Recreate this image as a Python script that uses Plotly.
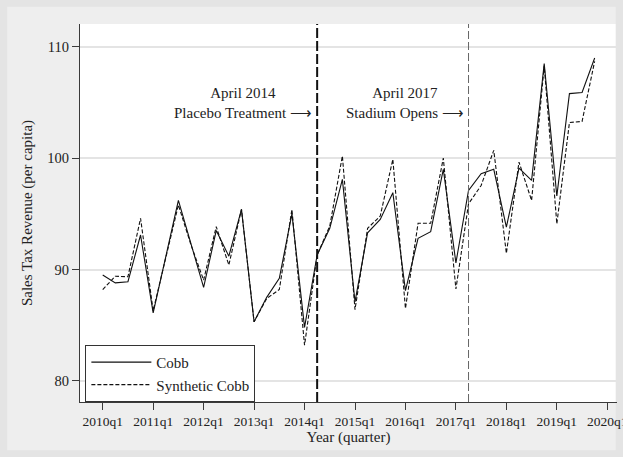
import plotly.graph_objects as go

quarters = ["2010q1", "2010q2", "2010q3", "2010q4",
            "2011q1", "2011q2", "2011q3", "2011q4",
            "2012q1", "2012q2", "2012q3", "2012q4",
            "2013q1", "2013q2", "2013q3", "2013q4",
            "2014q1", "2014q2", "2014q3", "2014q4",
            "2015q1", "2015q2", "2015q3", "2015q4",
            "2016q1", "2016q2", "2016q3", "2016q4",
            "2017q1", "2017q2", "2017q3", "2017q4",
            "2018q1", "2018q2", "2018q3", "2018q4",
            "2019q1", "2019q2", "2019q3", "2019q4"]

cobb = [89.5, 88.8, 88.9, 93.1, 86.1, 91.2, 96.2, 92.3, 88.4, 93.5,
        91.2, 95.4, 85.3, 87.5, 89.2, 95.0, 84.8, 91.3, 93.7, 98.1,
        87.1, 93.3, 94.5, 96.9, 88.1, 92.8, 93.4, 99.0, 90.6, 97.1,
        98.6, 99.0, 93.8, 99.1, 98.0, 108.5, 96.6, 105.8, 105.9, 109.0]

synthetic_cobb = [88.2, 89.4, 89.35, 94.6, 86.3, 91.0, 95.8, 92.2, 89.05, 93.85,
                  90.4, 95.4, 85.3, 87.4, 88.2, 95.4, 83.2, 91.3, 93.9, 100.2,
                  86.4, 93.7, 94.8, 99.9, 86.5, 94.15, 94.15, 100.0, 88.25, 95.9,
                  97.55, 100.7, 91.45, 99.65, 96.2, 108.3, 94.1, 103.2, 103.3, 108.7]

tick_labels = ["2010q1", "2011q1", "2012q1", "2013q1", "2014q1", "2015q1",
               "2016q1", "2017q1", "2018q1", "2019q1", "2020q1"]
tick_positions = [0, 4, 8, 12, 16, 20, 24, 28, 32, 36, 40]

y_ticks = [80, 90, 100, 110]

placebo_q = "2014q2"
stadium_q = "2017q2"

x_idx = list(range(len(quarters)))
FONT = "Liberation Serif"
TXT = "#222222"

fig = go.Figure()
fig.add_trace(go.Scatter(x=x_idx, y=cobb, mode="lines", name="Cobb",
                         line=dict(color="#111111", width=1.1)))
fig.add_trace(go.Scatter(x=x_idx, y=synthetic_cobb, mode="lines", name="Synthetic Cobb",
                         line=dict(color="#111111", width=1.1, dash="4px,2px")))

px_ = quarters.index(placebo_q)
sx_ = quarters.index(stadium_q)

fig.add_shape(type="line", xref="x", yref="paper", x0=px_, x1=px_, y0=0, y1=1,
              line=dict(color="#111111", width=2, dash="10px,3px"))
fig.add_shape(type="line", xref="x", yref="paper", x0=sx_, x1=sx_, y0=0, y1=1,
              line=dict(color="#666666", width=1, dash="8px,3px"))

fig.add_annotation(x=px_, xref="x", y=0.79, yref="paper", xanchor="right", yanchor="middle",
                   xshift=-3, showarrow=False, align="center",
                   text="April 2014<br>Placebo Treatment \u27f6",
                   font=dict(family=FONT, size=15, color=TXT))
fig.add_annotation(x=sx_, xref="x", y=0.79, yref="paper", xanchor="right", yanchor="middle",
                   xshift=-3, showarrow=False, align="center",
                   text="April 2017<br>Stadium Opens \u27f6",
                   font=dict(family=FONT, size=15, color=TXT))

# subtle outer frame
fig.add_shape(type="rect", xref="paper", yref="paper",
              x0=-0.143, x1=1.005, y0=-0.138, y1=1.056,
              line=dict(color="#e4e4e4", width=8), fillcolor="rgba(0,0,0,0)", layer="below")

fig.update_layout(
    width=623, height=457,
    margin=dict(l=80, r=6, t=24, b=55, autoexpand=False),
    paper_bgcolor="#eeeeee",
    plot_bgcolor="#ffffff",
    font=dict(family=FONT, size=14, color=TXT),
    showlegend=True,
    legend=dict(x=0.01, y=0.151, xanchor="left", yanchor="top",
                bgcolor="#ffffff", bordercolor="#333333", borderwidth=1,
                font=dict(family=FONT, size=15, color=TXT),
                itemwidth=60, tracegroupgap=0),
    xaxis=dict(range=[-1.8, 40.77], tickmode="array", tickvals=tick_positions,
               ticktext=tick_labels, showgrid=False, zeroline=False,
               showline=True, linecolor="#3a3a3a", linewidth=1.3,
               ticks="outside", ticklen=7, tickcolor="#3a3a3a", tickwidth=1,
               ticklabeloverflow="allow", automargin=False,
               tickfont=dict(family=FONT, size=13.5, color=TXT),
               title=dict(text="Year (quarter)", standoff=2,
                          font=dict(family=FONT, size=15, color=TXT))),
    yaxis=dict(range=[78.1, 112.05], tickmode="array", tickvals=y_ticks,
               showgrid=True, gridcolor="#e4e4e4", gridwidth=1.5, zeroline=False,
               showline=True, linecolor="#3a3a3a", linewidth=1.3,
               ticks="outside", ticklen=7, tickcolor="#3a3a3a", tickwidth=1,
               automargin=False,
               tickfont=dict(family=FONT, size=14.5, color=TXT),
               title=dict(text="Sales Tax Revenue (per capita)", standoff=10,
                          font=dict(family=FONT, size=15, color=TXT))),
)

fig.write_html("out.html")
